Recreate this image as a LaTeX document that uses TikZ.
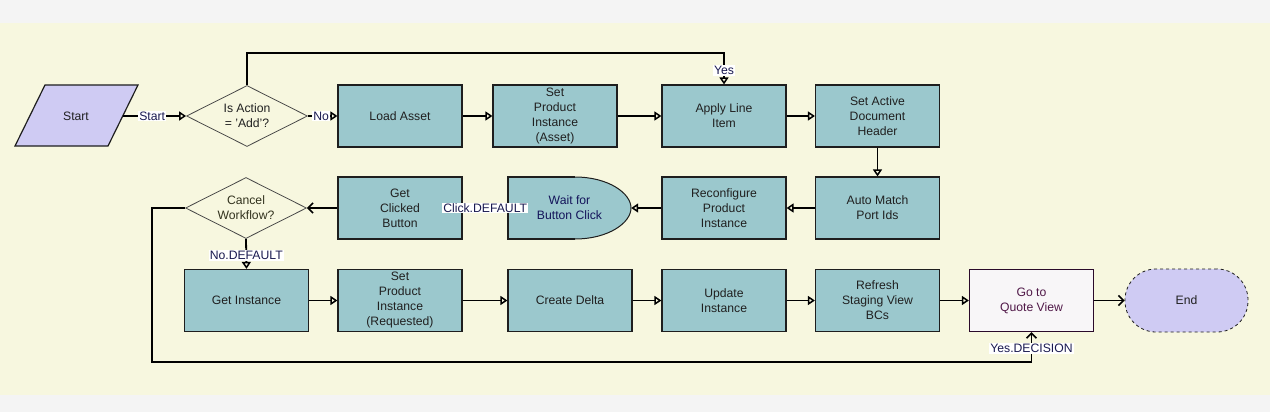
\documentclass[tikz,border=0pt]{standalone}
\usepackage{fontspec}
\setmainfont{Liberation Sans}
\usetikzlibrary{shapes.geometric,arrows.meta}
\definecolor{cream}{HTML}{F7F7DF}
\definecolor{band}{HTML}{F4F4F4}
\definecolor{tealbox}{HTML}{9BC8CD}
\definecolor{lav}{HTML}{CFCBF3}
\definecolor{boxline}{HTML}{1E1E1E}
\definecolor{boxtext}{HTML}{202020}
\definecolor{labtext}{HTML}{1A1A50}
\definecolor{quoteline}{HTML}{2A0A2A}
\definecolor{quotetext}{HTML}{501848}
\begin{document}
\begin{tikzpicture}[x=1pt,y=-1pt,
  font=\fontsize{12.2}{15}\selectfont,
  box/.style={draw=boxline,line width=1.2pt,fill=tealbox,minimum width=124pt,minimum height=62pt,inner sep=0pt,align=center,text=boxtext},
  dia/.style={draw=boxline!80,line width=0.8pt,fill=cream,diamond,minimum width=121pt,minimum height=61pt,inner sep=0pt},
  txt/.style={align=center,text=boxtext,inner sep=0pt},
  lab/.style={fill=white,inner sep=1pt,text=labtext,font=\fontsize{12.2}{14}\selectfont},
  conn/.style={line width=1.8pt,draw=black},
  tri/.style={conn,-{Triangle[open,length=7pt,width=9pt,line width=1.5pt]}},
  barb/.style={conn,-{Straight Barb[length=5pt,width=10pt,line width=1.6pt]}},
]
\useasboundingbox (0,0) rectangle (1270,412);
\fill[band] (0,0) rectangle (1270,412);
\fill[cream] (0,23) rectangle (1270,395);

% Start parallelogram
\draw[fill=lav,draw=boxline,line width=1.2pt] (45,85) -- (138,85) -- (108,146) -- (15,146) -- cycle;
\node[txt,minimum width=94pt,minimum height=61pt] (start) at (76,116) {Start};

% decisions
\node[dia] (dec1) at (247,116) {};
\node[txt] at (dec1) {Is Action\\= 'Add'?};
\node[dia] (dec2) at (246,208) {};
\node[txt,text={rgb,255:red,50;green,50;blue,30}] at (dec2) {Cancel\\Workflow?};

% row 1
\node[box] (load) at (400,116) {Load Asset};
\node[box] (spia) at (555,116) {Set\\Product\\Instance\\(Asset)};
\node[box] (apply) at (724,116) {Apply Line\\Item};
\node[box] (sadh) at (877.5,116) {Set Active\\Document\\Header};

% row 2
\node[box] (auto) at (877.5,208) {Auto Match\\Port Ids};
\node[box] (reconf) at (724,208) {Reconfigure\\Product\\Instance};
\draw[fill=tealbox,draw=boxline,line width=1pt] (508,177) -- (575,177) .. controls (608,177) and (631,193) .. (631,208) .. controls (631,223) and (608,239) .. (575,239) -- (508,239) -- cycle;
\draw[draw=boxline,line width=1.2pt] (575,177) -- (508,177) -- (508,239) -- (575,239);
\node[txt,minimum width=123pt,minimum height=62pt,text={rgb,255:red,20;green,20;blue,90}] (wait) at (569.5,208) {Wait for\\Button Click};
\node[box] (getclick) at (400,208) {Get\\Clicked\\Button};

% row 3
\node[box] (getinst) at (246.5,300.5) {Get Instance};
\node[box] (spir) at (400,300.5) {Set\\Product\\Instance\\(Requested)};
\node[box] (delta) at (570,300.5) {Create Delta};
\node[box] (update) at (724,300.5) {Update\\Instance};
\node[box] (refresh) at (877.5,300.5) {Refresh\\Staging View\\BCs};
\node[box,fill={rgb,255:red,248;green,246;blue,248},draw=quoteline,text=quotetext] (quote) at (1031.5,300.5) {Go to\\Quote View};
\node[draw=boxline,dashed,line width=0.8pt,fill=lav,rounded corners=31pt,minimum width=123pt,minimum height=63pt,inner sep=0pt,text=boxtext] (end) at (1186.5,300.5) {End};

% connectors
\draw[tri] (start.east) -- node[lab,pos=0.46] {Start} (dec1.west);
\draw[tri] (dec1.east) -- node[lab,pos=0.45] {No} (load.west);
\draw[tri] (dec1.north) -- (247,53) -- (724,53) -- node[lab,pos=0.55] {Yes} (apply.north);
\draw[tri] (load) -- (spia);
\draw[tri] (spia) -- (apply);
\draw[tri] (apply) -- (sadh);
\draw[tri] (sadh) -- (auto);
\draw[tri] (auto) -- (reconf);
\draw[tri] (reconf.west) -- (wait.east);
\draw[conn] (wait.west) -- node[lab,pos=0.5] {Click.DEFAULT} (getclick.east);
\draw[barb] (getclick.west) -- (dec2.east);
\draw[tri] (dec2.south) -- node[lab,pos=0.55] {No.DEFAULT} (getinst.north);
\draw[tri] (getinst) -- (spir);
\draw[tri] (spir) -- (delta);
\draw[tri] (delta) -- (update);
\draw[tri] (update) -- (refresh);
\draw[tri] (refresh) -- (quote);
\draw[barb] (quote) -- (end);
\draw[barb] (dec2.west) -- (152,208) -- (152,362) -- (1031.5,362) -- node[lab,pos=0.45] {Yes.DECISION} (quote.south);
\end{tikzpicture}
\end{document}
